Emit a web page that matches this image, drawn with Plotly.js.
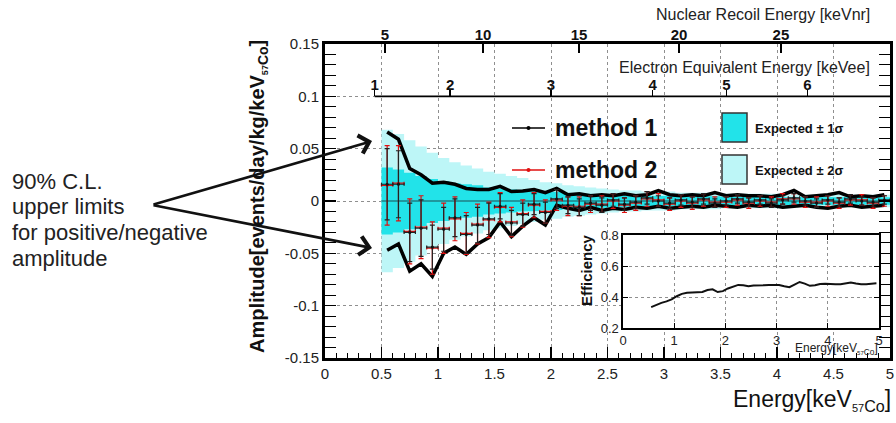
<!DOCTYPE html>
<html><head><meta charset="utf-8">
<script src="https://cdn.plot.ly/plotly-3.0.1.min.js"></script>
<style>html,body{margin:0;padding:0;background:#fff;}#chart{width:896px;height:423px;}</style>
</head><body><div id="chart"></div>
<script>
// ---- data ----
const energy = [0.55,0.65,0.75,0.85,0.95,1.05,1.15,1.25,1.35,1.45,1.55,1.65,1.75,1.85,1.95,2.05,2.15,2.25,2.35,2.45,2.55,2.65,2.75,2.85,2.95,3.05,3.15,3.25,3.35,3.45,3.55,3.65,3.75,3.85,3.95,4.05,4.15,4.25,4.35,4.45,4.55,4.65,4.75,4.85,4.95];
const method1 = [0.016,0.016,-0.030,-0.026,-0.044,-0.027,-0.016,-0.032,-0.023,-0.017,-0.005,-0.021,-0.013,-0.003,-0.011,0.002,-0.004,-0.006,-0.002,-0.004,0.001,-0.003,-0.001,0.003,0.000,-0.002,0.001,-0.001,0.002,-0.002,0.000,0.002,-0.001,0.001,-0.002,0.001,0.003,0.000,-0.002,0.001,-0.001,0.002,0.000,-0.001,0.001];
const method1Err = [0.034,0.032,0.028,0.027,0.021,0.021,0.018,0.018,0.017,0.015,0.012,0.012,0.011,0.010,0.010,0.009,0.008,0.008,0.007,0.007,0.006,0.006,0.006,0.006,0.005,0.005,0.005,0.005,0.005,0.004,0.004,0.004,0.004,0.004,0.004,0.004,0.004,0.004,0.004,0.004,0.004,0.004,0.004,0.004,0.004];
const method2 = [0.015,0.017,-0.029,-0.025,-0.045,-0.026,-0.017,-0.031,-0.022,-0.018,-0.006,-0.020,-0.012,-0.004,-0.010,0.001,-0.005,-0.005,-0.003,-0.003,0.000,-0.004,-0.002,0.002,0.001,-0.003,0.000,-0.002,0.001,-0.001,-0.001,0.001,-0.002,0.000,-0.001,0.002,0.002,-0.001,-0.001,0.000,-0.002,0.001,0.001,-0.002,0.000];
const method2Err = [0.038,0.036,0.031,0.030,0.025,0.024,0.021,0.020,0.019,0.017,0.014,0.014,0.013,0.012,0.011,0.010,0.009,0.009,0.008,0.008,0.007,0.007,0.007,0.007,0.006,0.006,0.006,0.006,0.006,0.005,0.005,0.005,0.005,0.005,0.005,0.005,0.005,0.005,0.005,0.005,0.005,0.005,0.005,0.005,0.005];
const upperLimit = [0.066,0.059,0.031,0.025,0.017,0.018,0.016,0.012,0.011,0.011,0.014,0.009,0.0095,0.011,0.008,0.012,0.006,0.007,0.005,0.006,0.005,0.007,0.005,0.006,0.010,0.006,0.005,0.006,0.005,0.008,0.005,0.006,0.005,0.005,0.004,0.006,0.010,0.004,0.005,0.006,0.008,0.004,0.005,0.004,0.006];
const lowerLimit = [-0.047,-0.041,-0.067,-0.060,-0.072,-0.050,-0.044,-0.051,-0.041,-0.035,-0.020,-0.034,-0.024,-0.016,-0.023,-0.004,-0.007,-0.009,-0.006,-0.009,-0.007,-0.008,-0.006,-0.007,-0.005,-0.007,-0.006,-0.005,-0.006,-0.004,-0.005,-0.006,-0.004,-0.005,-0.004,-0.006,-0.005,-0.004,-0.006,-0.007,-0.005,-0.004,-0.006,-0.005,-0.004];
const expected1Sigma = [0.032,0.030,0.027,0.024,0.021,0.019,0.017,0.016,0.015,0.013,0.012,0.011,0.010,0.0095,0.009,0.0085,0.008,0.0075,0.007,0.0065,0.006,0.0055,0.0055,0.005,0.005,0.005,0.0045,0.0045,0.0045,0.0045,0.004,0.004,0.004,0.004,0.004,0.004,0.0035,0.0035,0.0035,0.0035,0.0035,0.0035,0.0035,0.0035,0.0035];
const expected2Sigma = [0.068,0.064,0.058,0.052,0.046,0.041,0.037,0.034,0.031,0.028,0.026,0.024,0.022,0.020,0.018,0.017,0.015,0.014,0.013,0.012,0.011,0.010,0.010,0.009,0.009,0.009,0.008,0.008,0.008,0.008,0.007,0.007,0.007,0.007,0.007,0.007,0.006,0.006,0.006,0.006,0.006,0.006,0.006,0.006,0.006];
const efficiency = [0.335,0.350,0.362,0.372,0.385,0.405,0.420,0.428,0.430,0.430,0.432,0.445,0.450,0.432,0.438,0.455,0.465,0.478,0.476,0.470,0.474,0.477,0.476,0.478,0.479,0.478,0.470,0.463,0.480,0.497,0.486,0.472,0.476,0.484,0.486,0.483,0.483,0.482,0.487,0.494,0.487,0.482,0.483,0.484,0.488];

const yTickVals = [-0.15,-0.1,-0.05,0,0.05,0.1,0.15];
const yTickText = ['-0.15','-0.1','-0.05','0','0.05','0.1','0.15'];
const nrTickText = ['5','10','15','20','25'];
const nrTickPos = [0.531,1.398,2.248,3.133,4.035];
const eeTickText = ['1','2','3','4','5','6'];
const eeTickPos = [0.44,1.108,2.0,2.90,3.552,4.27];
const noteLines = ['90% C.L.','upper limits','for positive/negative','amplitude'];

// ---- styling / layout helpers ----
const binHalf = 0.05;
const FONT = 'Liberation Sans, Arial, Helvetica, sans-serif';
const L = 325, R = 890, T = 44, B = 358;
const px = v => (v - L) / (R - L);
const py = v => (B - v) / (B - T);

function band(c, s) {
  const xs = [], ys = [];
  for (let i = 0; i < c.length; i++) { xs.push(c[i] - binHalf, c[i] + binHalf); ys.push(s[i], s[i]); }
  for (let i = c.length - 1; i >= 0; i--) { xs.push(c[i] + binHalf, c[i] - binHalf); ys.push(-s[i], -s[i]); }
  return {x: xs, y: ys};
}
const b2 = band(energy, expected2Sigma), b1 = band(energy, expected1Sigma);
const last = energy.length - 1;

const traces = [
  {x: b2.x, y: b2.y, type: 'scatter', mode: 'lines', fill: 'toself', fillcolor: '#BDF6F7', line: {width: 0}, hoverinfo: 'skip'},
  {x: b1.x, y: b1.y, type: 'scatter', mode: 'lines', fill: 'toself', fillcolor: '#22E3E9', line: {width: 0}, hoverinfo: 'skip'},
  {x: [energy[0] - binHalf, energy[last] + binHalf], y: [0, 0], type: 'scatter', mode: 'lines', line: {color: '#1d4f55', width: 1.2}},
  {x: energy, y: upperLimit, type: 'scatter', mode: 'lines', line: {color: '#000', width: 3.5}},
  {x: energy, y: lowerLimit, type: 'scatter', mode: 'lines', line: {color: '#000', width: 3.5}},
  {x: energy, y: method2, type: 'scatter', mode: 'markers', marker: {color: '#e01010', size: 3},
   error_y: {type: 'data', array: method2Err, color: '#e01010', thickness: 1.2, width: 2.5},
   error_x: {type: 'constant', value: binHalf, color: '#e01010', thickness: 1.2, width: 1.5}},
  {x: energy, y: method1, type: 'scatter', mode: 'markers', marker: {color: '#111', size: 3},
   error_y: {type: 'data', array: method1Err, color: '#222', thickness: 1.2, width: 2.5},
   error_x: {type: 'constant', value: binHalf, color: '#222', thickness: 1.2, width: 1.5}},
  {x: energy, y: efficiency, type: 'scatter', mode: 'lines', xaxis: 'x4', yaxis: 'y4', line: {color: '#111', width: 2}},
  {x: nrTickPos, y: nrTickPos.map(() => 0), type: 'scatter', mode: 'markers', xaxis: 'x2', marker: {opacity: 0}, hoverinfo: 'skip'},
  {x: eeTickPos, y: eeTickPos.map(() => 0), type: 'scatter', mode: 'markers', xaxis: 'x3', marker: {opacity: 0}, hoverinfo: 'skip'}
];

const grid = {showgrid: true, gridcolor: '#8f8f8f', griddash: 'dot', gridwidth: 1};
const layout = {
  width: 896, height: 423,
  margin: {l: L, r: 896 - R, t: T, b: 423 - B, pad: 0},
  paper_bgcolor: '#fff', plot_bgcolor: '#fff',
  showlegend: false,
  font: {family: FONT, color: '#222', size: 15},
  xaxis: Object.assign({range: [0, 5], domain: [0, 1], anchor: 'y', showline: true, linewidth: 3, linecolor: '#000', mirror: true,
    ticks: 'inside', ticklen: 11, tickwidth: 1.3, tickcolor: '#000', tick0: 0, dtick: 0.5, zeroline: false,
    minor: {ticks: 'inside', ticklen: 5, tickwidth: 1, tickcolor: '#000', tick0: 0, dtick: 0.1, showgrid: false},
    tickfont: {size: 15, color: '#222'}, fixedrange: true}, grid),
  yaxis: Object.assign({range: [-0.15, 0.15], domain: [0, 1], anchor: 'x', showline: true, linewidth: 3, linecolor: '#000', mirror: 'allticks',
    ticks: 'inside', ticklen: 11, tickwidth: 1.3, tickcolor: '#000', tickmode: 'array', tickvals: yTickVals, ticktext: yTickText, zeroline: false,
    minor: {ticks: 'inside', ticklen: 5, tickwidth: 1, tickcolor: '#000', tickmode: 'linear', tick0: 0, dtick: 0.01, showgrid: false},
    tickfont: {size: 15, color: '#222'}, fixedrange: true}, grid),
  xaxis2: {overlaying: 'x', side: 'top', anchor: 'y', range: [0, 5], tickmode: 'array', tickvals: nrTickPos,
    ticktext: nrTickText.map(t => '<b>' + t + '</b>'), ticks: 'inside', ticklen: 9, tickwidth: 1.5, tickcolor: '#000',
    showgrid: false, showline: false, zeroline: false, tickfont: {size: 15, color: '#111'}},
  xaxis3: {overlaying: 'x', side: 'top', anchor: 'free', position: 0.8333, range: [0, 5], tickmode: 'array', tickvals: eeTickPos,
    ticktext: eeTickText.map(t => '<b>' + t + '</b>'), ticks: 'outside', ticklen: 6, tickwidth: 1.5, tickcolor: '#000',
    ticklabelstandoff: -6,
    showgrid: false, showline: false, zeroline: false, tickfont: {size: 15, color: '#111'}},
  xaxis4: {domain: [px(623), px(879)], anchor: 'y4', range: [0, 5], showline: true, linewidth: 1.6, linecolor: '#000', mirror: 'allticks',
    ticks: 'inside', ticklen: 5, tickwidth: 1, tickcolor: '#000', dtick: 1, tick0: 0, zeroline: false,
    showgrid: true, gridcolor: '#8f8f8f', griddash: 'dot', tickfont: {size: 13, color: '#222'}},
  yaxis4: {domain: [py(328), py(235)], anchor: 'x4', range: [0.2, 0.8], showline: true, linewidth: 1.6, linecolor: '#000', mirror: 'allticks',
    ticks: 'inside', ticklen: 5, tickwidth: 1, tickcolor: '#000', dtick: 0.2, tick0: 0.2, zeroline: false,
    showgrid: true, gridcolor: '#8f8f8f', griddash: 'dot', tickfont: {size: 13, color: '#222'}},
  shapes: [
    // electron-equivalent axis line
    {type: 'line', xref: 'x', yref: 'y', x0: eeTickPos[0], x1: 5, y0: 0.1, y1: 0.1, line: {color: '#000', width: 1.6}},
    // legend glyphs
    {type: 'line', xref: 'paper', yref: 'paper', x0: px(512), x1: px(545), y0: py(128), y1: py(128), line: {color: '#000', width: 1.5}},
    {type: 'circle', xref: 'paper', yref: 'paper', x0: px(526.5), x1: px(530.5), y0: py(130), y1: py(126), fillcolor: '#000', line: {width: 0}},
    {type: 'line', xref: 'paper', yref: 'paper', x0: px(512), x1: px(545), y0: py(170), y1: py(170), line: {color: '#e01010', width: 1.5}},
    {type: 'circle', xref: 'paper', yref: 'paper', x0: px(526.5), x1: px(530.5), y0: py(172), y1: py(168), fillcolor: '#e01010', line: {width: 0}},
    {type: 'rect', xref: 'paper', yref: 'paper', x0: px(722), x1: px(747), y0: py(142), y1: py(113), fillcolor: '#22E3E9', line: {color: '#333', width: 1.5}},
    {type: 'rect', xref: 'paper', yref: 'paper', x0: px(722), x1: px(747), y0: py(184), y1: py(155), fillcolor: '#BDF6F7', line: {color: '#333', width: 1.5}}
  ],
  annotations: [
    {xref: 'paper', yref: 'paper', x: px(553), y: py(128), xanchor: 'left', yanchor: 'middle', showarrow: false, text: '<b>method 1</b>', font: {size: 23, color: '#111'}},
    {xref: 'paper', yref: 'paper', x: px(553), y: py(170), xanchor: 'left', yanchor: 'middle', showarrow: false, text: '<b>method 2</b>', font: {size: 23, color: '#111'}},
    {xref: 'paper', yref: 'paper', x: px(753), y: py(128), xanchor: 'left', yanchor: 'middle', showarrow: false, text: '<b>Expected ± 1σ</b>', font: {size: 13, color: '#111'}},
    {xref: 'paper', yref: 'paper', x: px(753), y: py(170), xanchor: 'left', yanchor: 'middle', showarrow: false, text: '<b>Expected ± 2σ</b>', font: {size: 13, color: '#111'}},
    {xref: 'paper', yref: 'paper', x: px(872), y: py(15), xanchor: 'right', yanchor: 'middle', showarrow: false, text: 'Nuclear Recoil Energy [keVnr]', font: {size: 16, color: '#222'}},
    {xref: 'paper', yref: 'paper', x: px(872), y: py(67), xanchor: 'right', yanchor: 'middle', showarrow: false, text: 'Electron Equivalent Energy [keVee]', font: {size: 16, color: '#222'}},
    {xref: 'paper', yref: 'paper', x: px(893), y: py(400), xanchor: 'right', yanchor: 'middle', showarrow: false,
     text: 'Energy[keV<sub><span style="font-size:11px">57</span>Co</sub>]', font: {size: 23, color: '#111'}},
    {xref: 'paper', yref: 'paper', x: px(258), y: py(197), xanchor: 'center', yanchor: 'middle', showarrow: false, textangle: -90,
     text: '<b>Amplitude[events/day/kg/keV<sub><span style="font-size:9px">57</span>Co</sub>]</b>', font: {size: 20, color: '#111'}},
    {xref: 'paper', yref: 'paper', x: px(586), y: py(270), xanchor: 'center', yanchor: 'middle', showarrow: false, textangle: -90,
     text: '<b>Efficiency</b>', font: {size: 15, color: '#111'}},
    {xref: 'paper', yref: 'paper', x: px(880), y: py(349), xanchor: 'right', yanchor: 'middle', showarrow: false,
     text: 'Energy[keV<sub><span style="font-size:6px">57</span>Co</sub>]', font: {size: 12, color: '#222'}},
    {xref: 'x', yref: 'y', x: 0.416, y: 0.0573, ax: -220, ay: 64, axref: 'pixel', ayref: 'pixel', showarrow: true, text: '',
     arrowhead: 4, arrowsize: 1.4, arrowwidth: 2.6, arrowcolor: '#111'},
    {xref: 'x', yref: 'y', x: 0.416, y: -0.0449, ax: -220, ay: -43, axref: 'pixel', ayref: 'pixel', showarrow: true, text: '',
     arrowhead: 4, arrowsize: 1.4, arrowwidth: 2.6, arrowcolor: '#111'}
  ]
};
const noteY = [181, 206, 232, 258];
noteLines.forEach((t, i) => layout.annotations.push({xref: 'paper', yref: 'paper', x: px(10), y: py(noteY[i]), xanchor: 'left', yanchor: 'middle',
  showarrow: false, text: t, font: {size: 22, color: '#222'}}));

Plotly.newPlot('chart', traces, layout, {displayModeBar: false, staticPlot: true});
</script></body></html>
